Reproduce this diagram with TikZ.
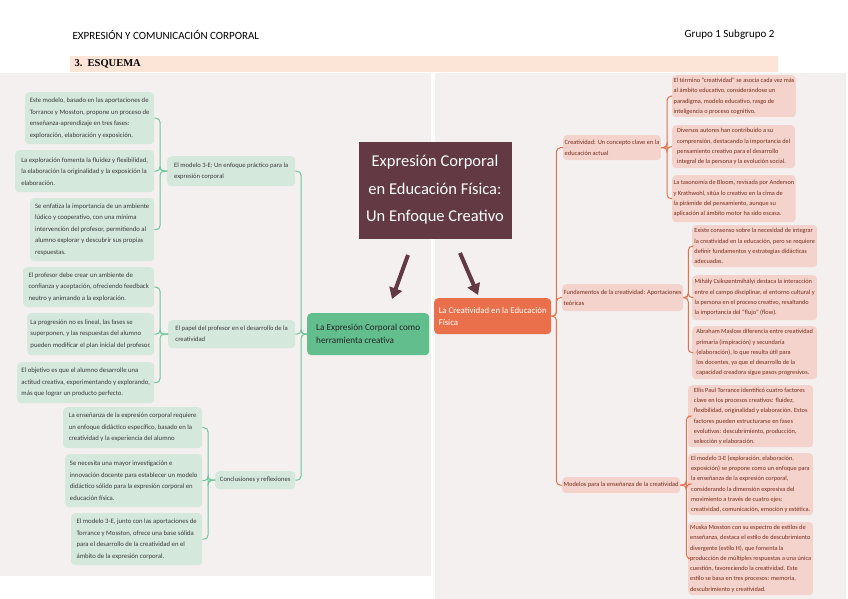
\documentclass[tikz,border=0pt]{standalone}
\usepackage{fontspec}
\setmainfont{Carlito}
\newfontfamily\timesfont{Liberation Serif}
\usepackage{xcolor}
\usetikzlibrary{arrows.meta}

\definecolor{panelgray}{HTML}{F3F0EF}
\definecolor{barpeach}{HTML}{FCE4D6}
\definecolor{leafgreen}{HTML}{D5E8DC}
\definecolor{maingreen}{HTML}{63BE8D}
\definecolor{linegreen}{HTML}{6CC899}
\definecolor{leafpink}{HTML}{F3D3CB}
\definecolor{mainorange}{HTML}{E9704B}
\definecolor{titlewine}{HTML}{633943}
\definecolor{textgray}{HTML}{3A3A3A}
\definecolor{textbrown}{HTML}{7B2D1E}

\tikzset{
    sz/.style 2 args={minimum width=#1, minimum height=#2},
    leafL/.style={anchor=north west, rounded corners=4pt, fill=leafgreen, text=textgray,
        align=left, inner xsep=1.5pt, inner ysep=3pt, font=\fontsize{6.7}{11.5}\selectfont},
    leafR/.style={anchor=north west, rounded corners=4pt, fill=leafpink, text=textbrown,
        align=left, inner xsep=1.5pt, inner ysep=2pt, font=\fontsize{6.3}{10.3}\selectfont},
    subL/.style={leafL, font=\fontsize{6.6}{11}\selectfont},
    subR/.style={leafR, font=\fontsize{6.4}{10.5}\selectfont},
    gline/.style={draw=linegreen, line width=1pt, rounded corners=4pt},
    oline/.style={draw=mainorange, line width=1pt, rounded corners=4pt},
    bigarrow/.style={draw=titlewine, line width=4pt, -{Triangle[width=13pt,length=11pt]}}
}

\begin{document}
\begin{tikzpicture}[x=1pt, y=-1pt]
    \useasboundingbox (0,0) rectangle (848,599);

    % Cabecera
    \node[anchor=west, font=\fontsize{11}{13}\selectfont] (curso) at (69,35) {EXPRESIÓN Y COMUNICACIÓN CORPORAL};
    \node[anchor=east, font=\fontsize{11}{13}\selectfont] (grupo) at (778,35) {Grupo 1 Subgrupo 2};
    \fill[barpeach] (70,56) rectangle (778,72);
    \node[anchor=west, font=\timesfont\bfseries\fontsize{10.5}{12}\selectfont] (esquema) at (71,64) {3.\enspace ESQUEMA};

    % Paneles de fondo
    \fill[panelgray] (0,73) rectangle (431,576);
    \fill[panelgray] (435,73) rectangle (846,599);

    % Titulo central
    \node[fill=titlewine, text=white, sz={153}{97}, align=center,
        font=\fontsize{16.5}{27.5}\selectfont] (titulo) at (435,190)
        {Expresión Corporal\\en Educación Física:\\Un Enfoque Creativo};
    \coordinate (flechaL0) at (408,255);
    \coordinate (flechaL1) at (392,299);
    \coordinate (flechaR0) at (460,253);
    \coordinate (flechaR1) at (478,295);
    \draw[bigarrow] (flechaL0) -- (flechaL1);
    \draw[bigarrow] (flechaR0) -- (flechaR1);

    % Ramas principales
    \node[anchor=north west, rounded corners=4pt, fill=maingreen, text=black!85, sz={122}{42},
        align=left, font=\fontsize{9.2}{13}\selectfont] (expresion) at (307,313)
        {La Expresión Corporal como\\herramienta creativa};
    \node[anchor=north west, rounded corners=4pt, fill=mainorange, text=white, sz={117}{36},
        align=left, font=\fontsize{8.8}{12}\selectfont] (creatividad) at (434,298)
        {La Creatividad en la Educación\\Física};

    % Lado izquierdo: subtemas
    \node[subL, sz={128}{30}] (modelo) at (167,156) {El modelo 3-E: Un enfoque práctico para la\\expresión corporal};
    \node[subL, sz={127}{28}] (papel) at (168,320) {El papel del profesor en el desarrollo de la\\creatividad};
    \node[subL, sz={80}{18}] (conclusiones) at (215,471) {Conclusiones y reflexiones};

    % Lado izquierdo: hojas
    \node[leafL, sz={129}{52}] (hojaA) at (25,92) {Este modelo, basado en las aportaciones de\\Torrance y Mosston, propone un proceso de\\enseñanza-aprendizaje en tres fases:\\exploración, elaboración y exposición.};
    \node[leafL, sz={139}{42}] (hojaB) at (15,150) {La exploración fomenta la fluidez y flexibilidad,\\la elaboración la originalidad y la exposición la\\elaboración.};
    \node[leafL, sz={124}{63}] (hojaC) at (30,198) {Se enfatiza la importancia de un ambiente\\lúdico y cooperativo, con una mínima\\intervención del profesor, permitiendo al\\alumno explorar y descubrir sus propias\\respuestas.};
    \node[leafL, sz={131}{40}] (hojaD) at (23,267) {El profesor debe crear un ambiente de\\confianza y aceptación, ofreciendo feedback\\neutro y animando a la exploración.};
    \node[leafL, sz={127}{42}] (hojaE) at (27,313) {La progresión no es lineal, las fases se\\superponen, y las respuestas del alumno\\pueden modificar el plan inicial del profesor.};
    \node[leafL, sz={137}{41}] (hojaF) at (17,362) {El objetivo es que el alumno desarrolle una\\actitud creativa, experimentando y explorando,\\más que lograr un producto perfecto.};
    \node[leafL, sz={139}{41}] (hojaG) at (63,407) {La enseñanza de la expresión corporal requiere\\un enfoque didáctico específico, basado en la\\creatividad y la experiencia del alumno};
    \node[leafL, sz={137}{53}] (hojaH) at (65,454) {Se necesita una mayor investigación e\\innovación docente para establecer un modelo\\didáctico sólido para la expresión corporal en\\educación física.};
    \node[leafL, sz={131}{52}] (hojaI) at (71,513) {El modelo 3-E, junto con las aportaciones de\\Torrance y Mosston, ofrece una base sólida\\para el desarrollo de la creatividad en el\\ámbito de la expresión corporal.};

    % Lado derecho: subtemas
    \node[subR, sz={96}{25}] (concepto) at (563,135) {Creatividad: Un concepto clave en la\\educación actual};
    \node[subR, sz={119}{27}] (fundamentos) at (562,284) {Fundamentos de la creatividad: Aportaciones\\teóricas};
    \node[subR, sz={115}{16}] (modelos) at (562,477) {Modelos para la enseñanza de la creatividad};

    % Lado derecho: hojas
    \node[leafR, sz={123}{42}] (hojaR1) at (672,75) {El término “creatividad” se asocia cada vez más\\al ámbito educativo, considerándose un\\paradigma, modelo educativo, rasgo de\\inteligencia o proceso cognitivo.};
    \node[leafR, sz={123}{43}] (hojaR2) at (672,125) {Diversos autores han contribuido a su\\comprensión, destacando la importancia del\\pensamiento creativo para el desarrollo\\integral de la persona y la evolución social.};
    \node[leafR, sz={123}{47}] (hojaR3) at (672,175) {La taxonomía de Bloom, revisada por Anderson\\y Krathwohl, sitúa lo creativo en la cima de\\la pirámide del pensamiento, aunque su\\aplicación al ámbito motor ha sido escasa.};
    \node[leafR, sz={125}{42}] (hojaR4) at (692,225) {Existe consenso sobre la necesidad de integrar\\la creatividad en la educación, pero se requiere\\definir fundamentos y estrategias didácticas\\adecuadas.};
    \node[leafR, sz={125}{45}] (hojaR5) at (692,275) {Mihály Csikszentmihályi destaca la interacción\\entre el campo disciplinar, el entorno cultural y\\la persona en el proceso creativo, resaltando\\la importancia del “flujo” (flow).};
    \node[leafR, sz={125}{53}] (hojaR6) at (692,326) {Abraham Maslow diferencia entre creatividad\\primaria (inspiración) y secundaria\\(elaboración), lo que resulta útil para\\los docentes, ya que el desarrollo de la\\capacidad creadora sigue pasos progresivos.};
    \node[leafR, sz={125}{62}] (hojaR7) at (688,385) {Ellis Paul Torrance identificó cuatro factores\\clave en los procesos creativos: fluidez,\\flexibilidad, originalidad y elaboración. Estos\\factores pueden estructurarse en fases\\evolutivas: descubrimiento, producción,\\selección y elaboración.};
    \node[leafR, sz={125}{62}] (hojaR8) at (688,453) {El modelo 3-E (exploración, elaboración,\\exposición) se propone como un enfoque para\\la enseñanza de la expresión corporal,\\considerando la dimensión expresiva del\\movimiento a través de cuatro ejes:\\creatividad, comunicación, emoción y estética.};
    \node[leafR, sz={125}{73}] (hojaR9) at (688,522) {Muska Mosston con su espectro de estilos de\\enseñanza, destaca el estilo de descubrimiento\\divergente (estilo H), que fomenta la\\producción de múltiples respuestas a una única\\cuestión, favoreciendo la creatividad. Este\\estilo se basa en tres procesos: memoria,\\descubrimiento y creatividad.};

    % Conectores verdes
    \foreach \s in {modelo,papel,conclusiones}
        \draw[gline] (expresion.west) -- ++(-6,0) |- (\s.east);
    \foreach \h in {hojaA,hojaB,hojaC}
        \draw[gline] (modelo.west) -- ++(-7,0) |- (\h.east);
    \foreach \h in {hojaD,hojaE,hojaF}
        \draw[gline] (papel.west) -- ++(-8,0) |- (\h.east);
    \foreach \h in {hojaG,hojaH,hojaI}
        \draw[gline] (conclusiones.west) -- ++(-7,0) |- (\h.east);

    % Conectores naranjas
    \foreach \s in {concepto,fundamentos,modelos}
        \draw[oline] (creatividad.east) -- ++(5,0) |- (\s.west);
    \foreach \h in {hojaR1,hojaR2,hojaR3}
        \draw[oline] (concepto.east) -- ++(6,0) |- (\h.west);
    \foreach \h in {hojaR4,hojaR5,hojaR6}
        \draw[oline] (fundamentos.east) -- ++(5,0) |- (\h.west);
    \foreach \h in {hojaR7,hojaR8,hojaR9}
        \draw[oline] (modelos.east) -- ++(6,0) |- (\h.west);
\end{tikzpicture}
\end{document}
